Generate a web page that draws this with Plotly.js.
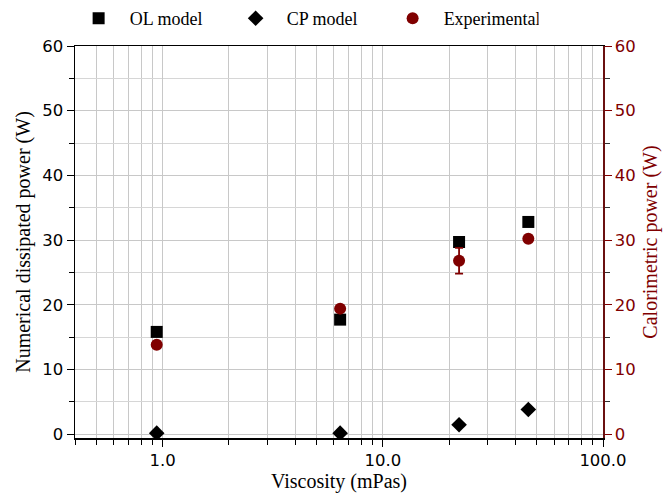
<!DOCTYPE html>
<html>
<head>
<meta charset="utf-8">
<script src="https://cdn.plot.ly/plotly-3.0.1.min.js"></script>
<style>html,body{margin:0;padding:0;background:#fff;}#chart{width:663px;height:494px;}</style>
</head>
<body>
<div id="chart"></div>
<script>
// Data
const viscosity = [0.94, 6.4, 22.2, 45.8];            // mPas
const olModel = [15.8, 17.7, 29.7, 32.8];              // W
const cpModel = [0.15, 0.15, 1.45, 3.8];               // W
const experimental = [13.8, 19.4, 26.8, 30.2];         // W
const experimentalErr = [0, 0, 2.0, 0.4];              // W
const xTickVals = [1, 10, 100];
const xTickText = ['1.0', '10.0', '100.0'];
const xMinorVals = [0.4,0.5,0.6,0.7,0.8,0.9,2,3,4,5,6,7,8,9,20,30,40,50,60,70,80,90];

const maroon = '#800000';
const serif = 'Liberation Serif, Times New Roman, serif';
const sans = 'DejaVu Sans, sans-serif';

const traces = [
  {x: viscosity, y: olModel, name: 'OL model', type: 'scatter', mode: 'markers',
   marker: {symbol: 'square', size: 12, color: '#000'}},
  {x: viscosity, y: cpModel, name: 'CP model', type: 'scatter', mode: 'markers',
   marker: {symbol: 'diamond', size: 12, color: '#000'}},
  {x: viscosity, y: experimental, name: 'Experimental', type: 'scatter', mode: 'markers',
   yaxis: 'y2',
   marker: {symbol: 'circle', size: 12, color: maroon},
   error_y: {type: 'data', array: experimentalErr, visible: true, color: maroon, thickness: 1.8, width: 4}}
];

const layout = {
  width: 663, height: 494,
  margin: {l: 75, r: 60, t: 46, b: 56},
  paper_bgcolor: '#fff', plot_bgcolor: '#fff',
  showlegend: true,
  legend: {orientation: 'h', xref: 'container', yref: 'container', x: 0.102, y: 1.0,
           xanchor: 'left', yanchor: 'top', itemwidth: 52, entrywidth: 90,
           font: {family: serif, size: 18, color: '#000'}, bgcolor: 'rgba(0,0,0,0)'},
  xaxis: {
    type: 'log', range: [Math.log10(0.4), 2],
    tickmode: 'array', tickvals: xTickVals, ticktext: xTickText,
    ticks: 'outside', ticklen: 7, tickwidth: 1, tickcolor: '#000',
    showline: true, linecolor: '#000', linewidth: 1.5, mirror: true,
    showgrid: true, gridcolor: '#c8c8c8', gridwidth: 1,
    minor: {tickmode: 'array', tickvals: xMinorVals, ticks: 'outside', ticklen: 5, tickcolor: '#000',
            showgrid: true, gridcolor: '#c8c8c8', gridwidth: 1},
    tickfont: {family: sans, size: 16.5, color: '#000'},
    zeroline: false,
    title: {text: 'Viscosity (mPas)', font: {family: serif, size: 20, color: '#000'}, standoff: 4}
  },
  yaxis: {
    range: [-0.6, 60], dtick: 10, tick0: 0,
    ticks: 'outside', ticklen: 7, tickcolor: '#000',
    showline: true, linecolor: '#000', linewidth: 1.5,
    showgrid: true, gridcolor: '#c8c8c8', gridwidth: 1, zeroline: false,
    minor: {dtick: 5, ticks: 'outside', ticklen: 5, tickcolor: '#000', showgrid: true, gridcolor: '#d6d6d6', gridwidth: 1},
    tickfont: {family: sans, size: 16.5, color: '#000'},
    title: {text: 'Numerical dissipated power (W)', font: {family: serif, size: 20, color: '#000'}, standoff: 6}
  },
  yaxis2: {
    overlaying: 'y', side: 'right', range: [-0.6, 60], dtick: 10, tick0: 0,
    ticks: 'outside', ticklen: 7, tickcolor: maroon,
    showline: true, linecolor: '#6a1010', linewidth: 1.5,
    showgrid: false, zeroline: false,
    minor: {dtick: 5, ticks: 'outside', ticklen: 5, tickcolor: '#333'},
    tickfont: {family: sans, size: 16.5, color: maroon},
    title: {text: 'Calorimetric power (W)', font: {family: serif, size: 20, color: maroon}, standoff: 8}
  }
};

Plotly.newPlot('chart', traces, layout, {displayModeBar: false, staticPlot: true});
</script>
</body>
</html>
